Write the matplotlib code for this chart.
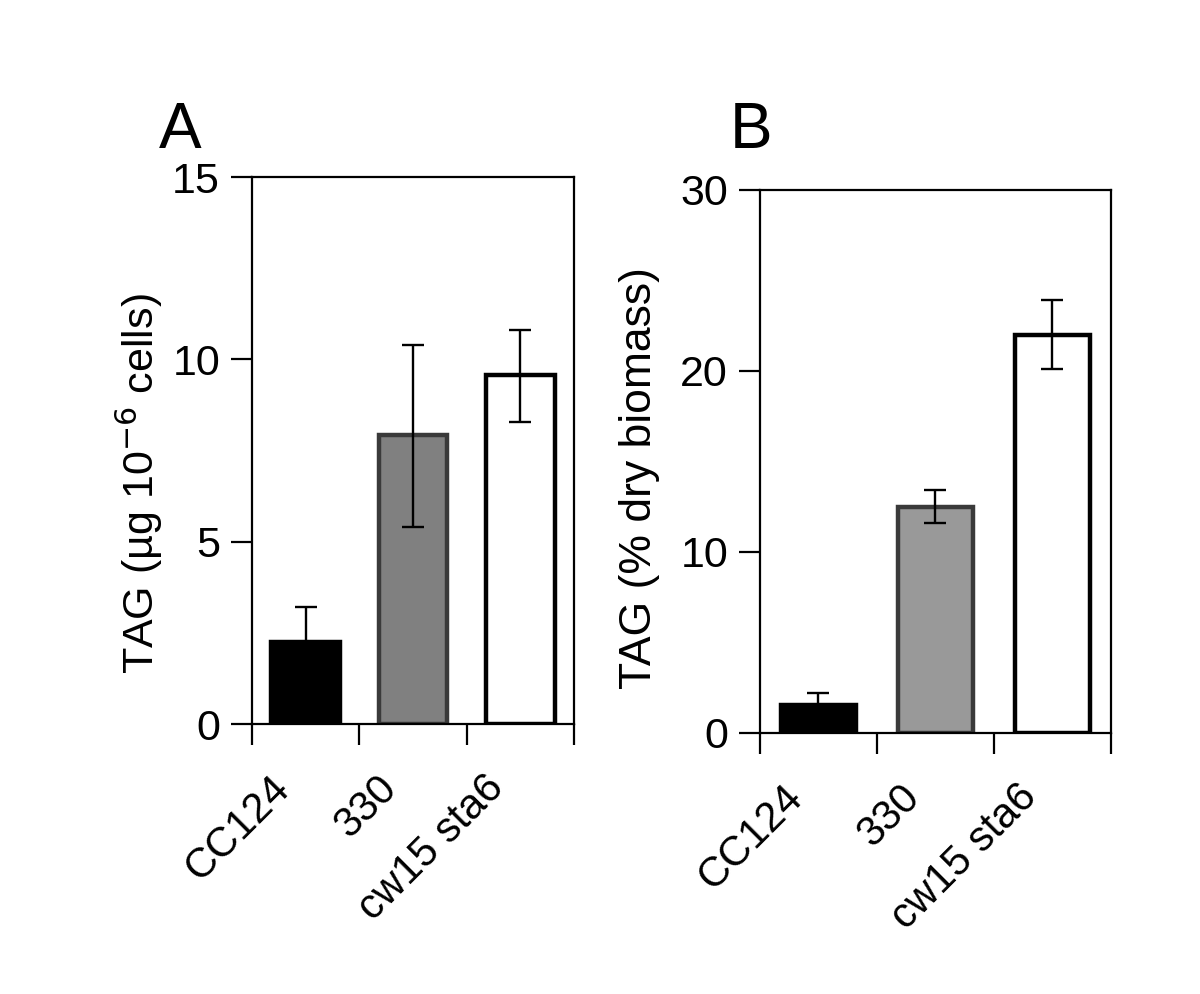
import matplotlib.pyplot as plt
import matplotlib.transforms as mtransforms

plt.rcParams['font.family'] = ['Liberation Sans', 'DejaVu Sans']

strains = ['CC124', '330', 'cw15 sta6']

# panel A: TAG per 10^6 cells
tag_cells = [2.25, 7.92, 9.57]
tag_cells_lo = [2.25, 5.4, 8.28]
tag_cells_hi = [3.2, 10.4, 10.8]

# panel B: TAG % dry biomass
tag_biomass = [1.55, 12.5, 22.0]
tag_biomass_lo = [1.55, 11.6, 20.1]
tag_biomass_hi = [2.2, 13.4, 23.9]


def draw_panel(ax, vals, lo, hi, gray, ymax, yticks, ylabel, label_xy, label_size):
    x = [0.5, 1.5, 2.5]
    faces = ['black', gray, 'white']
    edges = ['black', '#3a3a3a', 'black']
    ax.bar(x, vals, width=0.64, color=faces, edgecolor=edges, linewidth=3.2, zorder=2)
    err = [[v - l for v, l in zip(vals, lo)], [h - v for v, h in zip(vals, hi)]]
    ax.errorbar(x, vals, yerr=err, fmt='none', ecolor='black', elinewidth=1.7,
                capsize=8, capthick=1.7, zorder=3)
    ax.set_xlim(0, 3)
    ax.set_ylim(0, ymax)
    ax.set_yticks(yticks)
    ax.set_xticks([0, 1, 2, 3])
    ax.set_xticklabels([])
    ax.tick_params(axis='both', direction='out', length=15, width=1.6, labelsize=31, pad=8)
    for s in ax.spines.values():
        s.set_linewidth(1.6)
    ax.set_ylabel(ylabel, fontsize=label_size)
    ax.yaxis.set_label_coords(*label_xy)
    off = mtransforms.ScaledTranslation(-0.22, -0.58, ax.figure.dpi_scale_trans)
    for xi, name in zip(x, strains):
        ax.text(xi, 0, name, rotation=45, ha='right', va='center', rotation_mode='anchor',
                fontsize=30, transform=ax.get_xaxis_transform() + off)


fig = plt.figure(figsize=(12, 9.94), dpi=100)
axA = fig.add_axes([0.21, 0.2716, 0.2683, 0.5503])
axB = fig.add_axes([0.6333, 0.2626, 0.2925, 0.5463])

draw_panel(axA, tag_cells, tag_cells_lo, tag_cells_hi, '#808080', 15, [0, 5, 10, 15],
           r'TAG (µg 10$^{-6}$ cells)', (-0.27, 0.44), 31)
draw_panel(axB, tag_biomass, tag_biomass_lo, tag_biomass_hi, '#999999', 30, [0, 10, 20, 30],
           'TAG (% dry biomass)', (-0.285, 0.47), 32)

fig.text(0.132, 0.851, 'A', fontsize=46, ha='left', va='baseline')
fig.text(0.608, 0.851, 'B', fontsize=46, ha='left', va='baseline')

plt.savefig('out.png', dpi=100)
